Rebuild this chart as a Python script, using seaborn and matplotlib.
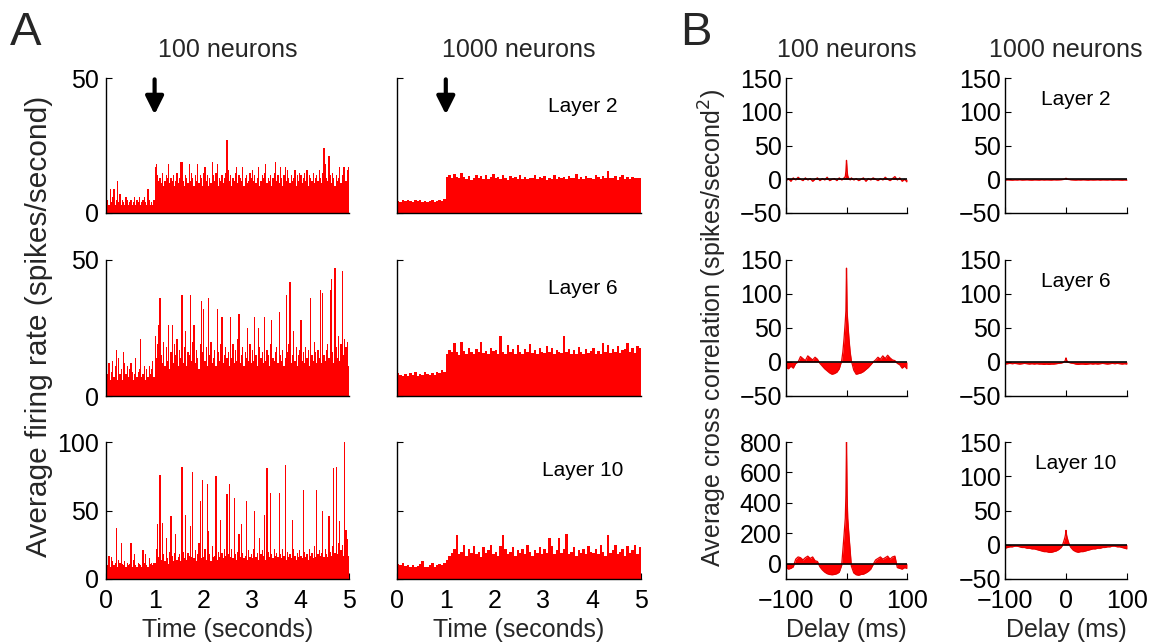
import numpy as np
import pandas as pd
import matplotlib
matplotlib.use("Agg")
import matplotlib.pyplot as plt
import seaborn as sns

sns.set_theme(style="ticks")
plt.rcParams["font.family"] = ["Liberation Sans", "DejaVu Sans"]
plt.rcParams["axes.unicode_minus"] = True

# ---------------- A: population firing rate (spikes/second), 0-5 s ----------------
# 100 neurons: 25 ms bins (200 bins)
rate100_l2 = [
    4, 5, 3, 9, 4, 6, 9, 3, 5, 12, 4, 7, 3, 5, 4, 3, 6, 5, 3, 4,
    5, 3, 4, 6, 3, 5, 4, 6, 3, 4, 5, 6, 4, 3, 9, 5, 3, 4, 3, 5,
    17, 18, 14, 12, 13, 11, 15, 10, 12, 14, 13, 18, 11, 13, 12, 14, 10, 12, 15, 11,
    13, 19, 19, 12, 10, 14, 13, 11, 18, 12, 15, 13, 10, 14, 12, 18, 11, 14, 13, 10,
    15, 17, 12, 14, 10, 13, 11, 19, 14, 12, 15, 18, 10, 13, 12, 14, 11, 13, 15, 27,
    16, 12, 14, 10, 13, 12, 15, 17, 11, 14, 13, 12, 17, 10, 13, 14, 11, 12, 15, 13,
    16, 12, 14, 11, 13, 17, 10, 12, 14, 13, 15, 18, 11, 13, 12, 14, 10, 13, 15, 19,
    12, 14, 11, 17, 13, 10, 14, 17, 12, 16, 13, 11, 14, 12, 13, 16, 10, 14, 12, 15,
    14, 11, 13, 15, 12, 16, 10, 14, 13, 12, 15, 11, 13, 14, 12, 16, 13, 11, 15, 24,
    18, 13, 12, 21, 14, 11, 15, 13, 10, 14, 12, 13, 17, 11, 14, 17, 17, 12, 16, 17,
]
rate100_l6 = [
    15, 8, 12, 6, 9, 13, 7, 11, 17, 6, 14, 8, 10, 6, 16, 12, 8, 11, 7, 10,
    12, 9, 6, 8, 14, 7, 9, 10, 21, 7, 8, 11, 6, 10, 7, 11, 8, 10, 13, 7,
    22, 14, 19, 26, 36, 15, 12, 20, 11, 18, 13, 26, 10, 16, 26, 12, 19, 15, 21, 11,
    17, 14, 37, 12, 18, 24, 11, 16, 15, 37, 13, 20, 26, 12, 17, 14, 10, 19, 35, 16,
    32, 13, 18, 11, 36, 15, 20, 12, 14, 17, 11, 32, 16, 13, 19, 29, 12, 15, 18, 14,
    16, 11, 29, 14, 19, 12, 17, 13, 21, 30, 12, 15, 18, 11, 16, 14, 25, 13, 19, 12,
    17, 13, 29, 15, 11, 25, 18, 14, 16, 12, 29, 13, 17, 15, 11, 19, 28, 14, 13, 16,
    18, 12, 31, 15, 13, 17, 11, 14, 37, 16, 19, 42, 12, 15, 24, 13, 18, 11, 15, 17,
    28, 13, 16, 12, 18, 14, 17, 11, 36, 15, 13, 20, 16, 12, 17, 14, 39, 12, 38, 15,
    13, 17, 19, 14, 39, 43, 16, 12, 47, 18, 14, 22, 13, 19, 46, 15, 21, 18, 20, 11,
]
rate100_l10 = [
    18, 10, 17, 9, 16, 13, 10, 12, 37, 9, 14, 12, 26, 11, 10, 13, 9, 12, 10, 11,
    26, 9, 14, 18, 10, 9, 12, 11, 10, 9, 21, 12, 18, 10, 9, 15, 11, 12, 10, 12,
    12, 22, 40, 16, 76, 14, 41, 18, 13, 30, 15, 11, 20, 46, 17, 13, 19, 33, 14, 16,
    18, 13, 82, 20, 15, 47, 14, 19, 17, 39, 16, 78, 15, 21, 13, 18, 26, 57, 15, 72,
    16, 22, 14, 69, 35, 18, 13, 24, 16, 17, 75, 14, 20, 16, 43, 19, 15, 22, 17, 62,
    18, 69, 16, 22, 15, 59, 18, 14, 20, 33, 16, 40, 19, 15, 17, 57, 14, 21, 16, 18,
    15, 22, 50, 16, 19, 14, 30, 18, 21, 17, 47, 14, 81, 20, 16, 63, 18, 15, 22, 17,
    19, 16, 63, 18, 15, 22, 17, 83, 14, 20, 16, 18, 15, 43, 22, 17, 14, 19, 16, 21,
    17, 15, 65, 20, 16, 18, 14, 22, 17, 19, 15, 24, 16, 65, 18, 21, 17, 19, 50, 16,
    22, 18, 16, 46, 20, 17, 24, 81, 19, 82, 18, 26, 42, 21, 25, 17, 100, 36, 29, 17,
]

# 1000 neurons: 50 ms bins (100 bins)
rate1000_l2 = [
    4.5, 4.2, 4.8, 4.3, 5.0, 4.4, 4.1, 4.7, 4.3, 4.9, 4.2, 4.6, 4.0, 4.5, 4.8, 4.2, 4.4, 4.7, 4.5, 5.2,
    13.5, 14.2, 13.0, 14.6, 13.4, 12.8, 14.9, 13.2, 12.6, 13.8, 12.4, 13.1, 14.0, 12.9, 13.6, 12.7, 13.9, 12.5, 13.3, 14.3,
    12.8, 13.5, 12.6, 14.1, 13.0, 12.4, 13.7, 12.9, 13.2, 12.6, 13.9, 12.7, 13.4, 12.5, 13.1, 12.8, 14.0, 12.6, 13.3, 12.9,
    13.6, 12.4, 13.0, 12.7, 14.2, 12.5, 13.2, 12.8, 13.5, 12.6, 13.8, 12.9, 13.1, 14.4, 12.7, 13.3, 12.5, 13.6, 12.8, 13.0,
    12.6, 13.9, 13.2, 12.5, 13.7, 12.9, 15.5, 13.1, 12.8, 13.6, 12.4, 13.3, 14.0, 12.7, 13.2, 12.6, 13.5, 12.9, 13.1, 12.8,
]
rate1000_l6 = [
    8.5, 7.8, 7.2, 8.0, 7.5, 8.4, 7.6, 8.9, 7.4, 8.2, 7.7, 9.0, 8.1, 7.9, 8.6, 7.8, 8.8, 8.3, 9.5, 8.7,
    15.5, 17.0, 16.2, 19.5, 16.0, 15.2, 20.0, 16.5, 15.4, 17.8, 16.1, 15.6, 17.2, 16.0, 19.8, 15.8, 16.6, 15.3, 17.5, 16.4,
    17.0, 15.6, 22.0, 16.2, 15.4, 18.6, 16.0, 17.4, 15.5, 18.9, 16.3, 15.6, 17.1, 16.0, 19.0, 15.8, 16.9, 15.4, 17.6, 16.2,
    15.7, 18.2, 16.0, 17.5, 15.5, 17.0, 16.3, 15.9, 22.2, 16.1, 17.4, 15.6, 16.8, 15.3, 18.0, 16.2, 15.6, 17.2, 15.8, 16.4,
    17.8, 15.6, 16.7, 15.4, 19.5, 16.0, 18.7, 15.8, 17.2, 16.3, 18.4, 15.7, 16.9, 17.1, 19.6, 16.0, 17.6, 15.8, 18.2, 17.5,
]
rate1000_l10 = [
    11, 10, 12, 9.5, 10.5, 9, 10, 8.5, 9.5, 11, 13.5, 9, 8.5, 10, 12, 9, 10.5, 11, 10, 11.5,
    14, 17, 19, 22, 32, 18, 20, 25, 17, 22, 19, 24, 18, 20, 16, 23, 19, 21, 25, 18,
    20, 17, 24, 32, 22, 18, 20, 23, 17, 21, 19, 22, 18, 25, 20, 17, 21, 19, 23, 18,
    22, 19, 30, 24, 18, 21, 30, 19, 22, 33, 18, 20, 23, 17, 21, 19, 22, 18, 24, 20,
    19, 22, 18, 25, 20, 17, 32, 19, 21, 25, 18, 20, 22, 17, 24, 19, 21, 25, 18, 23,
]

# ---------------- B: average cross correlation (spikes/second^2) vs delay ----------------
delays = [
    -100, -96, -92, -88, -84, -80, -76, -72, -68, -64, -60, -56,
    -52, -48, -44, -40, -36, -32, -28, -24, -20, -16, -12, -8,
    -6, -4, -2, -1, 0, 1, 2, 4, 6,
    8, 12, 16, 20, 24, 28, 32, 36, 40, 44, 48, 52,
    56, 60, 64, 68, 72, 76, 80, 84, 88, 92, 96, 100,
]
cc100_l2 = [
    -2, 1, -3, 2, -1, 3, 0, -2, 2, -1, 1, -3, 0, 2, -2, 1, -1, 3, -2, 0, 1, -2, 2, -1,
    0, 2, 4, 12, 28, 13, 5, 1, -1,
    2, -1, 1, -2, 0, 2, -3, 1, -1, 2, 0, -2, 1, -1, 3, 0, -2, 1, 4, -1, 2, -3, 0, -4,
]
cc100_l6 = [
    -8, -10, -6, -9, -2, 0, 8, 5, 2, 9, 6, 3, 7, 4, -2, -6, -10, -13, -16, -18, -17, -15, -10, 2,
    15, 35, 60, 75, 138, 75, 60, 35, 15,
    2, -12, -18, -17, -16, -14, -11, -8, -4, 0, 3, 7, 4, 9, 5, 10, 6, 3, 2, -2, -4, -9, -6, -10,
]
cc100_l10 = [
    -25, -35, -30, -20, 30, 45, 40, 25, 40, 50, 35, 45, 20, 15, -20, -40, -55, -65, -70, -72, -70, -65, -55, -10,
    90, 190, 300, 450, 800, 450, 300, 190, 90,
    -15, -60, -72, -75, -70, -68, -60, -50, -35, -5, 25, 35, 45, 30, 40, 50, 30, 45, 50, -25, -30, -35, -25, -30,
]
cc1000_l2 = [
    -1.2, -0.8, -1.0, -1.3, -0.9, -1.1, -0.7, -1.2, -1.0, -0.8, -1.1, -1.3, -0.9, -1.0, -1.2, -0.8, -1.1, -0.9, -1.0, -1.2, -0.8, -1.0, -0.9, -0.7,
    -0.5, -0.3, 0.2, 0.8, 1.5, 0.8, 0.2, -0.3, -0.5,
    -0.8, -1.0, -1.2, -0.9, -1.1, -0.8, -1.0, -1.3, -0.9, -1.1, -1.0, -0.8, -1.2, -0.9, -1.0, -1.1, -0.8, -1.2, -1.0, -0.9, -1.1, -1.3, -1.0, -1.2,
]
cc1000_l6 = [
    -3, -2.5, -2, -2.5, -2, -2.5, -3, -2.5, -2, -2.5, -3, -2.5, -3, -2.5, -3, -3, -3.5, -3, -3.5, -3, -3, -2.5, -2, -1.5,
    -1, -0.5, 1, 3, 6, 3, 1, -0.5, -1,
    -1.5, -2, -3, -3.5, -3, -3, -3.5, -3, -2.5, -3, -2.5, -3, -2.5, -2, -2.5, -3, -2.5, -2, -2.5, -2, -2.5, -3, -2.5, -3,
]
cc1000_l10 = [
    -5, -4, -3, -3, -2, -2, -3, -4, -4, -5, -5, -6, -6, -7, -8, -9, -10, -10, -11, -11, -10, -9, -7, -4,
    -1, 4, 10, 14, 21, 14, 10, 4, -1,
    -4, -8, -10, -11, -10, -10, -9, -8, -7, -6, -6, -5, -5, -4, -4, -3, -3, -2, -2, -3, -3, -4, -5, -6,
]

row_labels = ["Layer 2", "Layer 6", "Layer 10"]
col_titles = ["100 neurons", "1000 neurons"]

RED = "#ff0000"
FS = 18

W, H = 1156, 643
fig = plt.figure(figsize=(W / 100, H / 100), dpi=100)


def box(x0, x1, ytop, ybot):
    return [x0 / W, 1 - ybot / H, (x1 - x0) / W, (ybot - ytop) / H]


rows_px = [(78, 213), (260, 396), (442, 579)]
colsA_px = [(106, 349), (397, 641)]
colsB_px = [(786, 907), (1005, 1127)]


def style(ax, ypad):
    sns.despine(ax=ax)
    for s in ("left", "bottom"):
        ax.spines[s].set_color("black")
        ax.spines[s].set_linewidth(1.0)
    ax.tick_params(direction="in", length=4, width=0.8, labelsize=FS,
                   colors="black")
    ax.tick_params(axis="y", pad=ypad)
    ax.tick_params(axis="x", pad=7.5)
    ax.set_xlabel("")
    ax.set_ylabel("")
    ax.grid(False)


rates = [[rate100_l2, rate1000_l2], [rate100_l6, rate1000_l6], [rate100_l10, rate1000_l10]]
ccs = [[cc100_l2, cc1000_l2], [cc100_l6, cc1000_l6], [cc100_l10, cc1000_l10]]

# Panel A: firing-rate histograms (filled step outline, one polygon per panel)
for r in range(3):
    ymax = 100 if r == 2 else 50
    for c in range(2):
        ax = fig.add_axes(box(*colsA_px[c], *rows_px[r]))
        vals = np.asarray(rates[r][c], dtype=float)
        n = len(vals)
        width = 5.0 / n
        df = pd.DataFrame({"t": (np.arange(n) + 0.5) * width, "rate": vals})
        sns.histplot(data=df, x="t", weights="rate", bins=n, binrange=(0, 5),
                     ax=ax, color=RED, alpha=1.0, linewidth=0, element="step",
                     fill=True)
        ax.set_xlim(0, 5)
        ax.set_ylim(0, ymax)
        ax.set_yticks([0, 50, 100] if r == 2 else [0, 50])
        ax.set_xticks([0, 1, 2, 3, 4, 5])
        style(ax, ypad=5)
        if r < 2:
            ax.tick_params(axis="x", length=0, labelbottom=False)
        if c == 1:
            ax.tick_params(axis="y", labelleft=False)
        if r == 0:
            ax.annotate("", xy=(1.0, 36.5), xytext=(1.0, 49.5),
                        arrowprops=dict(arrowstyle="-|>,head_width=0.45,head_length=0.9",
                                        color="black", lw=3, shrinkA=0, shrinkB=0))
        if c == 1:
            ax.text(3.81, 0.79 * ymax, row_labels[r], fontsize=15, ha="center",
                    va="center", color="black")
        if r == 2:
            ax.set_xlabel("Time (seconds)", fontsize=FS, labelpad=3)

# Panel B: cross-correlograms
for r in range(3):
    for c in range(2):
        ax = fig.add_axes(box(*colsB_px[c], *rows_px[r]))
        vals = np.asarray(ccs[r][c], dtype=float)
        ax.fill_between(delays, 0, vals, color=RED, linewidth=0)
        sns.lineplot(x=delays, y=vals, ax=ax, color="#e60000", lw=0.9)
        ax.axhline(0, color="black", lw=1.2, zorder=3)
        ax.set_xlim(-100, 100)
        if c == 0 and r == 2:
            ax.set_ylim(-100, 800)
            ax.set_yticks([0, 200, 400, 600, 800])
        else:
            ax.set_ylim(-50, 150)
            ax.set_yticks([-50, 0, 50, 100, 150])
        ax.set_xticks([-100, 0, 100])
        style(ax, ypad=3)
        if r < 2:
            ax.tick_params(axis="x", labelbottom=False)
        else:
            ax.set_xlabel("Delay (ms)", fontsize=FS, labelpad=3)
        if c == 1:
            ax.text(16, 118, row_labels[r], fontsize=15, ha="center",
                    va="center", color="black")

# Column titles, panel letters and shared y labels
for (x0, x1), t in zip(colsA_px, col_titles):
    fig.text((x0 + x1) / 2 / W, 1 - 50 / H, t, fontsize=FS, ha="center", va="center")
for (x0, x1), t in zip(colsB_px, col_titles):
    fig.text((x0 + x1) / 2 / W, 1 - 50 / H, t, fontsize=FS, ha="center", va="center")

fig.text(26 / W, 1 - 33 / H, "A", fontsize=34, ha="center", va="center")
fig.text(696 / W, 1 - 33 / H, "B", fontsize=34, ha="center", va="center")

fig.text(39 / W, 1 - 326 / H, "Average firing rate (spikes/second)", fontsize=21.5,
         rotation=90, ha="center", va="center")
fig.text(713 / W, 1 - 328 / H, "Average cross correlation (spikes/second$^2$)",
         fontsize=FS, rotation=90, ha="center", va="center")

fig.savefig("out.png", dpi=100, facecolor="white")
